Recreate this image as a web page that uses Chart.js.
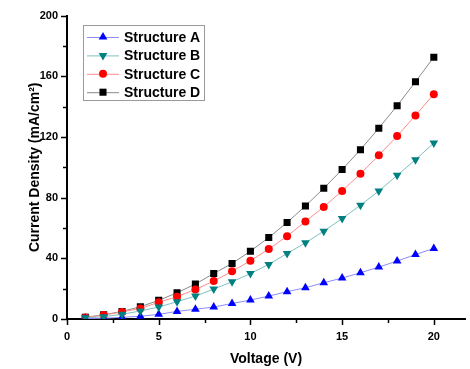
<!DOCTYPE html>
<html>
<head>
<meta charset="utf-8">
<script src="https://cdn.jsdelivr.net/npm/chart.js@4/dist/chart.umd.min.js"></script>
<style>
  html, body { margin: 0; padding: 0; background: #fff; }
  #chart { display: block; }
</style>
</head>
<body>
<canvas id="chart" width="470" height="369"></canvas>
<script>
// ===== Data =====
const voltage = [1, 2, 3, 4, 5, 6, 7, 8, 9, 10, 11, 12, 13, 14, 15, 16, 17, 18, 19, 20];
const structA = [0.3, 0.5, 1.1, 1.8, 3.1, 5.0, 6.4, 7.9, 10.2, 12.5, 15.1, 18.0, 20.6, 23.9, 27.0, 30.5, 34.2, 38.2, 42.5, 46.5];
const structB = [0.8, 1.5, 3.1, 5.3, 7.9, 11.4, 15.1, 19.7, 24.5, 30.0, 36.0, 43.2, 50.2, 57.9, 66.2, 75.0, 84.4, 94.7, 105.0, 116.0];
const structC = [1.0, 2.6, 4.6, 7.0, 11.0, 14.7, 19.5, 25.0, 31.4, 38.4, 46.1, 54.6, 64.3, 73.9, 84.4, 95.8, 107.9, 120.6, 134.2, 148.2];
const structD = [1.1, 2.8, 5.0, 8.1, 12.3, 17.3, 23.0, 30.0, 36.6, 44.7, 53.7, 63.6, 74.5, 86.2, 98.5, 111.6, 125.8, 140.6, 156.4, 172.6];
const seriesNames = ['Structure A', 'Structure B', 'Structure C', 'Structure D'];
const xTickValues = [0, 2.5, 5, 7.5, 10, 12.5, 15, 17.5, 20];
const xTitle = 'Voltage (V)';
const yTitle = 'Current Density (mA/cm\u00B2)';

const FONT = '"Liberation Sans", Arial, sans-serif';

function pts(ys) {
  return ys.map((y, i) => ({ x: voltage[i], y: y }));
}

// ===== Marker drawing (used in legend) =====
function drawMarker(ctx, style, x, y, r, rot, color) {
  ctx.save();
  ctx.fillStyle = color;
  ctx.beginPath();
  if (style === 'rect') {
    const s = Math.SQRT1_2 * r;
    ctx.rect(x - s, y - s, 2 * s, 2 * s);
  } else if (style === 'circle') {
    ctx.arc(x, y, r, 0, Math.PI * 2);
  } else {
    const a0 = (rot || 0) * Math.PI / 180 - Math.PI / 2;
    for (let k = 0; k < 3; k++) {
      const a = a0 + k * 2 * Math.PI / 3;
      const px = x + Math.cos(a) * r, py = y + Math.sin(a) * r;
      if (k === 0) ctx.moveTo(px, py); else ctx.lineTo(px, py);
    }
    ctx.closePath();
  }
  ctx.fill();
  ctx.restore();
}

// ticks, major / minor
const tickMarks = {
  id: 'tickMarks',
  afterDraw(chart) {
    const ctx = chart.ctx;
    const xs = chart.scales.x, ys = chart.scales.y;
    ctx.save();
    ctx.strokeStyle = '#000';
    ctx.lineWidth = 1.5;
    xs.ticks.forEach(t => {
      const px = Math.round(xs.getPixelForValue(t.value)) + 0.5;
      const len = t.value % 5 === 0 ? 6 : 4;
      ctx.beginPath();
      ctx.moveTo(px, ys.bottom);
      ctx.lineTo(px, ys.bottom + len);
      ctx.stroke();
    });
    ys.ticks.forEach(t => {
      const py = Math.round(ys.getPixelForValue(t.value)) + 0.5;
      const len = t.value % 40 === 0 ? 6 : 4;
      ctx.beginPath();
      ctx.moveTo(xs.left, py);
      ctx.lineTo(xs.left - len, py);
      ctx.stroke();
    });
    ctx.restore();
  }
};

// legend box with line + marker
const boxLegend = {
  id: 'boxLegend',
  afterDraw(chart) {
    const ctx = chart.ctx;
    const left = 83.5, top = 25.5, w = 121, h = 75;
    ctx.save();
    ctx.fillStyle = '#fff';
    ctx.fillRect(left, top, w, h);
    ctx.strokeStyle = '#9a9a9a';
    ctx.lineWidth = 1;
    ctx.strokeRect(left, top, w, h);
    ctx.font = 'bold 14px ' + FONT;
    ctx.textBaseline = 'middle';
    ctx.textAlign = 'left';
    chart.data.datasets.forEach((ds, i) => {
      const y = 37 + i * 18.4;
      ctx.strokeStyle = ds.borderColor;
      ctx.lineWidth = 1;
      ctx.beginPath();
      ctx.moveTo(87, y + 0.5);
      ctx.lineTo(119, y + 0.5);
      ctx.stroke();
      drawMarker(ctx, ds.pointStyle, 103, y, ds.pointRadius, ds.pointRotation, ds.pointBackgroundColor);
      ctx.fillStyle = '#000';
      ctx.fillText(ds.label, 124, y + 1);
    });
    ctx.restore();
  }
};

new Chart(document.getElementById('chart'), {
  type: 'line',
  data: {
    datasets: [
      {
        label: seriesNames[0],
        data: pts(structA),
        borderColor: '#8c8cff',
        pointBackgroundColor: '#0000ff',
        pointStyle: 'triangle',
        pointRotation: 0,
        pointRadius: 5,
        order: 2
      },
      {
        label: seriesNames[1],
        data: pts(structB),
        borderColor: '#7fc0c0',
        pointBackgroundColor: '#008080',
        pointStyle: 'triangle',
        pointRotation: 180,
        pointRadius: 5,
        order: 1
      },
      {
        label: seriesNames[2],
        data: pts(structC),
        borderColor: '#ff8c8c',
        pointBackgroundColor: '#ff0000',
        pointStyle: 'circle',
        pointRotation: 0,
        pointRadius: 4,
        order: 3
      },
      {
        label: seriesNames[3],
        data: pts(structD),
        borderColor: '#8a8a8a',
        pointBackgroundColor: '#000000',
        pointStyle: 'rect',
        pointRotation: 0,
        pointRadius: 5,
        order: 4
      }
    ].map(ds => Object.assign(ds, {
      borderWidth: 1,
      pointBorderWidth: 0,
      pointBorderColor: ds.pointBackgroundColor,
      tension: 0,
      fill: false
    }))
  },
  options: {
    responsive: false,
    devicePixelRatio: 1,
    animation: false,
    layout: { padding: { top: 15, right: 0, left: 0, bottom: 0 } },
    plugins: {
      legend: { display: false },
      tooltip: { enabled: false }
    },
    scales: {
      x: {
        type: 'linear',
        min: 0,
        max: 21.7,
        afterBuildTicks: s => {
          s.ticks = xTickValues.map(v => ({ value: v }));
        },
        afterFit: s => { s.height = 50; },
        grid: { display: false, drawTicks: false },
        border: { display: true, color: '#000', width: 2 },
        ticks: {
          padding: 11,
          autoSkip: false,
          maxRotation: 0,
          color: '#000',
          font: { family: FONT, size: 11, weight: 'bold' },
          callback: v => (v % 5 === 0 ? String(v) : '')
        },
        title: {
          display: true,
          text: xTitle,
          color: '#000',
          font: { family: FONT, size: 14, weight: 'bold' },
          padding: { top: 0, bottom: 1 }
        }
      },
      y: {
        type: 'linear',
        min: 0,
        max: 200,
        afterFit: s => { s.width = 67; },
        grid: { display: false, drawTicks: false },
        border: { display: true, color: '#000', width: 2 },
        ticks: {
          stepSize: 20,
          padding: 9,
          color: '#000',
          font: { family: FONT, size: 11, weight: 'bold' },
          callback: v => (v % 40 === 0 ? String(v) : '')
        },
        title: {
          display: true,
          text: yTitle,
          color: '#000',
          font: { family: FONT, size: 14, weight: 'bold' },
          padding: { top: 27, bottom: 0 }
        }
      }
    }
  },
  plugins: [tickMarks, boxLegend]
});
</script>
</body>
</html>
